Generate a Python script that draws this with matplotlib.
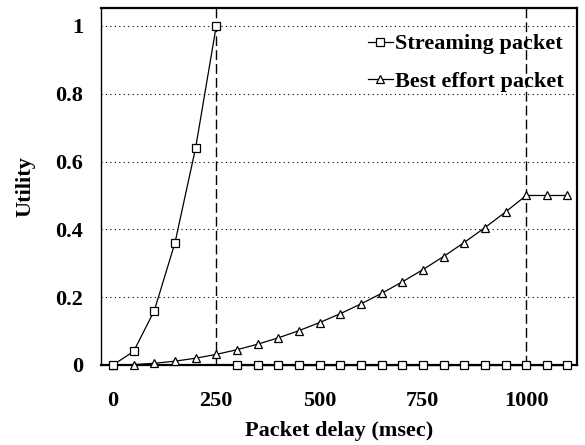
import matplotlib
matplotlib.use("Agg")
import matplotlib.pyplot as plt
import numpy as np

# Packet delay samples (msec) and utility of each traffic class
delay = [0, 50, 100, 150, 200, 250, 300, 350, 400, 450, 500, 550,
         600, 650, 700, 750, 800, 850, 900, 950, 1000, 1050, 1100]
streaming = [0, 0.04, 0.16, 0.36, 0.64, 1.0, 0, 0, 0, 0, 0, 0,
             0, 0, 0, 0, 0, 0, 0, 0, 0, 0, 0]
best_effort = [0, 0.00125, 0.005, 0.01125, 0.02, 0.03125, 0.045, 0.06125,
               0.08, 0.10125, 0.125, 0.15125, 0.18, 0.21125, 0.245, 0.28125,
               0.32, 0.36125, 0.405, 0.45125, 0.5, 0.5, 0.5]
deadlines = [250, 1000]
xticks = [0, 250, 500, 750, 1000]
yticks = [0, 0.2, 0.4, 0.6, 0.8, 1]

plt.rcParams["font.family"] = ["Liberation Serif", "DejaVu Serif"]
plt.rcParams["font.weight"] = "bold"

fig = plt.figure(figsize=(5.85, 4.45), dpi=100)
ax = fig.add_axes([0.1726, 0.1798, 0.8137, 0.8022])

# streaming curve breaks after its deadline and sits on zero afterwards
cut = delay.index(deadlines[0]) + 1
ax.plot(delay[:cut], streaming[:cut], color="black", lw=0.9, marker="s",
        ms=5.5, mfc="white", mec="black", mew=0.9, clip_on=False, zorder=4,
        label="Streaming packet")
ax.plot(delay[cut:], streaming[cut:], color="black", lw=0.9, marker="s",
        ms=5.5, mfc="white", mec="black", mew=0.9, clip_on=False, zorder=4)
ax.plot(delay, best_effort, color="black", lw=0.9, marker="^",
        ms=5.5, mfc="white", mec="black", mew=0.9, clip_on=False, zorder=3,
        label="Best effort packet")

for d in deadlines:
    ax.axvline(d, color="black", lw=1.0, ls=(0, (7, 3)), zorder=2)

ax.set_xlim(-29, 1123)
ax.set_ylim(0, 1.053)
ax.set_xticks(xticks)
ax.set_yticks(yticks)
ax.set_yticklabels(["0", "0.2", "0.4", "0.6", "0.8", "1"])
ax.yaxis.grid(True, color="black", ls=(0, (1, 3)), lw=0.8)
ax.tick_params(length=0, labelsize=16)
ax.tick_params(axis="x", pad=19)
ax.tick_params(axis="y", pad=13)
for s in ax.spines.values():
    s.set_linewidth(1.6)
ax.spines["left"].set_linewidth(1.0)

ax.set_xlabel("Packet delay (msec)", fontsize=16, fontweight="bold", labelpad=7)
ax.set_ylabel("Utility", fontsize=16, fontweight="bold", labelpad=14)

ax.legend(loc="upper right", bbox_to_anchor=(1.0, 0.965), frameon=False,
          fontsize=16, handlelength=1.1, handletextpad=0.1, labelspacing=0.75,
          borderaxespad=0.2)

fig.savefig("out.png", dpi=100)
